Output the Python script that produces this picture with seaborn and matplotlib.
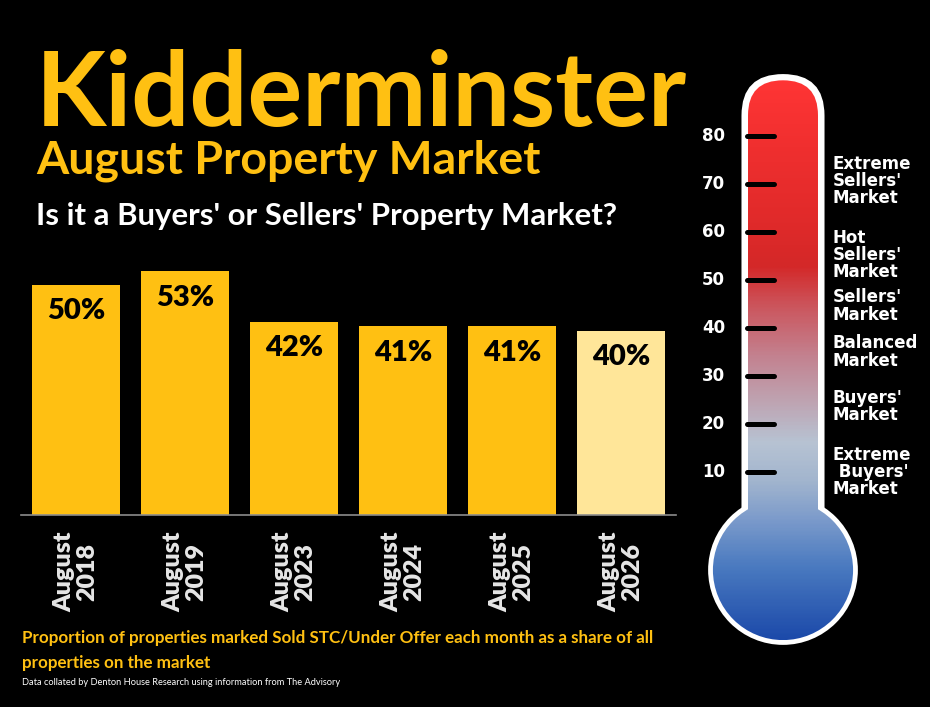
import numpy as np
import pandas as pd
import matplotlib
matplotlib.use("Agg")
import matplotlib.pyplot as plt
from matplotlib.patches import FancyBboxPatch, Circle
from matplotlib.colors import LinearSegmentedColormap
import seaborn as sns

# ---------------- data ----------------
categories = ["August\n2018", "August\n2019", "August\n2023",
              "August\n2024", "August\n2025", "August\n2026"]
values = [50, 53, 42, 41, 41, 40]
value_labels = ["50%", "53%", "42%", "41%", "41%", "40%"]
bar_colors = ["#FFC012", "#FFC012", "#FFC012", "#FFC012", "#FFC012", "#FFE699"]

thermo_ticks = [10, 20, 30, 40, 50, 60, 70, 80]
market_labels = ["Extreme\nSellers'\nMarket", "Hot\nSellers'\nMarket",
                 "Sellers'\nMarket", "Balanced\nMarket",
                 "Buyers'\nMarket", "Extreme\n Buyers'\nMarket"]
market_label_levels = [70.6, 55.2, 44.6, 35.0, 23.6, 10.0]

title = "Kidderminster"
subtitle = "August Property Market"
question = "Is it a Buyers' or Sellers' Property Market?"
note1 = "Proportion of properties marked Sold STC/Under Offer each month as a share of all"
note2 = "properties on the market"
source = "Data collated by Denton House Research using information from The Advisory"

# ---------------- figure ----------------
W, H = 930, 707
sns.set_style("dark")
plt.rcParams["font.family"] = ["Lato", "DejaVu Sans"]
fig = plt.figure(figsize=(W / 100, H / 100), dpi=100, facecolor="black")
YEL = "#FFC012"


def fx(px):
    return px / W


def fy(py):
    return 1 - py / H


renderer = fig.canvas.get_renderer()


def fit(t, width_px):
    bb = t.get_window_extent(renderer)
    t.set_fontsize(t.get_fontsize() * width_px / bb.width)


# titles
t1 = fig.text(fx(36), fy(126), title, color=YEL, fontsize=80, fontweight="bold",
              ha="left", va="baseline")
fit(t1, 652)
t2 = fig.text(fx(36), fy(173), subtitle, color=YEL, fontsize=30, fontweight="bold",
              ha="left", va="baseline")
fit(t2, 504)
t3 = fig.text(fx(36), fy(225), question, color="white", fontsize=24, fontweight="bold",
              ha="left", va="baseline")
fit(t3, 581)

# footnotes
n1 = fig.text(fx(22), fy(643), note1, color=YEL, fontsize=13, fontweight="bold",
              ha="left", va="baseline")
fit(n1, 631)
n2 = fig.text(fx(22), fy(668), note2, color=YEL, fontsize=n1.get_fontsize(),
              fontweight="bold", ha="left", va="baseline")
n3 = fig.text(fx(22), fy(685), source, color="white", fontsize=7,
              ha="left", va="baseline")
fit(n3, 318)

# ---------------- bar chart ----------------
ax = fig.add_axes([fx(21.5), fy(515), 654 / W, 276 / H])
ax.set_facecolor("black")
df = pd.DataFrame({"cat": categories, "val": values})
sns.barplot(data=df, x="cat", y="val", hue="cat", palette=bar_colors,
            legend=False, width=0.8, saturation=1, linewidth=0, ax=ax)
ax.set_xlim(-0.5, 5.5)
ax.set_ylim(0, 60)
for i, (v, lab) in enumerate(zip(values, value_labels)):
    ax.annotate(lab, (i, v), xytext=(0, -19), textcoords="offset points",
                ha="center", va="center", fontsize=21, fontweight="heavy",
                color="black")
for s in ["top", "right", "left"]:
    ax.spines[s].set_visible(False)
ax.spines["bottom"].set_color("#8c8c8c")
ax.spines["bottom"].set_linewidth(1.2)
ax.set_yticks([])
ax.set_xlabel("")
ax.set_ylabel("")
ax.grid(False)
ax.tick_params(axis="x", length=0, pad=12)
ax.set_xticks(range(len(categories)))
ax.set_xticklabels(categories, rotation=90, fontsize=18, fontweight="heavy",
                   color="#E6E6E6", ha="center", va="top",
                   multialignment="center", linespacing=1.05)

# ---------------- thermometer ----------------
ta = fig.add_axes([fx(690), fy(660), 180 / W, 594 / H])
ta.set_facecolor("black")
ta.axis("off")
x0, x1 = -19.375, 18.125
y0, y1 = -29.17, 94.58

outer_tube = FancyBboxPatch((-8.65, -10), 17.3, 102.9,
                            boxstyle="round,pad=0,rounding_size=8.65",
                            fc="white", ec="none", zorder=1)
outer_bulb = Circle((0, -10.42), 15.6, fc="white", ec="none", zorder=1)
ta.add_patch(outer_tube)
ta.add_patch(outer_bulb)

inner_tube = FancyBboxPatch((-7.29, -10), 14.58, 101.6,
                            boxstyle="round,pad=0,rounding_size=7.29",
                            fc="none", ec="none", transform=ta.transData)
inner_bulb = Circle((0, -10.42), 14.6, fc="none", ec="none", transform=ta.transData)

stops_v = [-25, -10, 0, 8, 16, 24, 34, 44, 53, 62, 78, 92]
stops_c = ["#1C4AAA", "#4A7AC0", "#7C9BCB", "#A2B5CE", "#B7C3D3", "#BEA6B4",
           "#C38290", "#CB5860", "#D42828", "#E02A2A", "#F02F2F", "#FF3535"]
vmin, vmax = stops_v[0], stops_v[-1]
cmap = LinearSegmentedColormap.from_list(
    "thermo", [((v - vmin) / (vmax - vmin), c) for v, c in zip(stops_v, stops_c)])
grad = np.linspace(vmin, vmax, 400)[:, None]
for clip in (inner_tube, inner_bulb):
    im = ta.imshow(grad, extent=[-16, 16, vmin, vmax], origin="lower",
                   cmap=cmap, vmin=vmin, vmax=vmax, aspect="auto",
                   interpolation="bilinear", zorder=2)
    im.set_clip_path(clip)

for t in thermo_ticks:
    ta.plot([-7.4, -1.8], [t, t], color="black", lw=3.6, solid_capstyle="round",
            zorder=3)
    ta.text(-12.1, t, str(t), ha="right", va="center", color="white",
            fontsize=12, fontweight="bold", family=["DejaVu Sans"])

for lab, lv in zip(market_labels, market_label_levels):
    ta.text(10.4, lv, lab, ha="left", va="center", color="white", fontsize=12,
            fontweight="bold", family=["DejaVu Sans"], linespacing=0.95,
            multialignment="left")

ta.set_xlim(x0, x1)
ta.set_ylim(y0, y1)

fig.savefig("out.png", dpi=100, facecolor="black")
